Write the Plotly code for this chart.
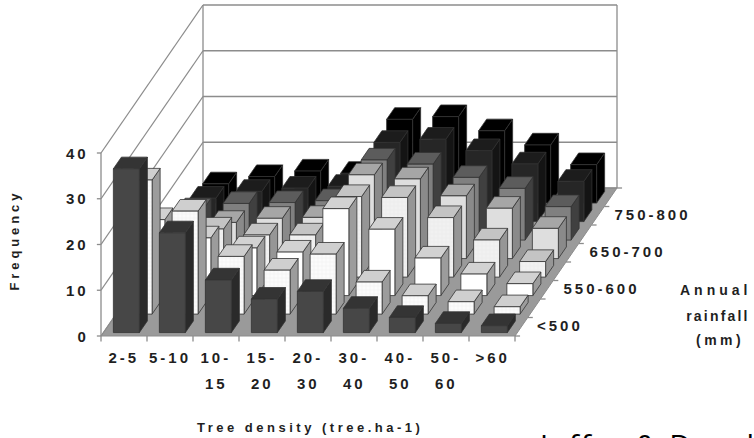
import plotly.graph_objects as go

density = [["2-5"], ["5-10"], ["10-", "15"], ["15-", "20"], ["20-", "30"], ["30-", "40"], ["40-", "50"], ["50-", "60"], [">60"]]
rain_labels = ["<500", "550-600", "650-700", "750-800"]
rain_label_rows = [0, 2, 4, 6]
y_ticks = [0, 10, 20, 30, 40]

r0 = [35.8, 21.8, 11.5, 7.3, 9.0, 5.3, 3.3, 2.0, 1.5]
r1 = [29.3, 22.5, 12.6, 9.6, 13.1, 7.0, 4.0, 2.7, 1.6]
r2 = [16.6, 12.6, 10.4, 9.5, 19.0, 14.5, 8.2, 4.7, 2.6]
r3 = [9.0, 10.5, 9.2, 9.2, 17.6, 17.4, 13.0, 8.1, 3.4]
r4 = [5.0, 7.9, 8.8, 9.0, 18.3, 17.4, 13.7, 11.0, 6.6]
r5 = [6.6, 8.0, 8.2, 8.6, 17.5, 16.6, 13.7, 11.3, 7.3]
r6 = [5.1, 6.6, 7.3, 7.7, 17.3, 18.0, 15.5, 12.6, 8.8]
r7 = [4.2, 5.8, 7.0, 6.5, 18.3, 18.9, 15.8, 12.7, 8.4]
rows = [r0, r1, r2, r3, r4, r5, r6, r7]

front_colors = ["#474747", "#fbfbfb", "#ffffff", "#f1f1f1", "#dedede", "#808080", "#262626", "#000000"]
top_colors = ["#343434", "#cfcfcf", "#d2d2d2", "#c4c4c4", "#a6a6a6", "#5c5c5c", "#1c1c1c", "#000000"]
side_colors = ["#2a2a2a", "#9c9c9c", "#9c9c9c", "#969696", "#8a8a8a", "#404040", "#141414", "#000000"]
patterned = {1: 0.04, 3: 0.06}

PX_X, PX_Y = 46.0, 4.575
DX, DY = 12.75 / PX_X, 18.5 / PX_Y
NROWS = 8
NCOLS = 9
ZMAX = 40
BAR_W = 0.565
BAR_D = 0.63
W, H = 754, 438


def proj(x, d, z):
    return x + d * DX, z + d * DY


def poly(points):
    xs, ys = [], []
    for x, d, z in points + [points[0]]:
        px, py = proj(x, d, z)
        xs.append(px)
        ys.append(py)
    xs.append(None)
    ys.append(None)
    return xs, ys


def add_poly(fig, polys, fill, line="#333333", width=0.8, pattern=None):
    xs, ys = [], []
    for p in polys:
        a, b = poly(p)
        xs += a
        ys += b
    kw = {}
    if pattern:
        kw["fillpattern"] = dict(shape="+", fgcolor="#c9c9c9", bgcolor=fill, size=4, solidity=0.12)
    fig.add_trace(go.Scatter(x=xs, y=ys, mode="lines", fill="toself", fillcolor=fill,
                             line=dict(color=line, width=width), hoverinfo="skip", **kw))


def add_line(fig, a, b, color="#8c8c8c", width=1.3):
    ax, ay = proj(*a)
    bx, by = proj(*b)
    fig.add_trace(go.Scatter(x=[ax, bx], y=[ay, by], mode="lines",
                             line=dict(color=color, width=width), hoverinfo="skip"))


fig = go.Figure()
add_poly(fig, [[(0, 0, 0), (NCOLS, 0, 0), (NCOLS, NROWS, 0), (0, NROWS, 0)]], "#9a9a9a", line="#8c8c8c", width=1)

for v in y_ticks:
    add_line(fig, (0, 0, v), (0, NROWS, v))
    add_line(fig, (0, NROWS, v), (NCOLS, NROWS, v))
add_line(fig, (0, 0, 0), (0, 0, ZMAX))
add_line(fig, (0, NROWS, 0), (0, NROWS, ZMAX))
add_line(fig, (NCOLS, NROWS, 0), (NCOLS, NROWS, ZMAX))

for v in y_ticks:
    add_line(fig, (0, 0, v), (-0.09, 0, v))
for c in range(NCOLS + 1):
    add_line(fig, (c, 0, 0), (c, 0, -1.2))
for r in range(NROWS + 1):
    add_line(fig, (NCOLS, r, 0), (NCOLS + 0.11, r, 0))

for r in range(NROWS - 1, -1, -1):
    d0 = r + (1 - BAR_D) / 2
    d1 = d0 + BAR_D
    fronts, tops, sides = [], [], []
    for c, v in enumerate(rows[r]):
        x0 = c + (1 - BAR_W) / 2
        x1 = x0 + BAR_W
        fronts.append([(x0, d0, 0), (x1, d0, 0), (x1, d0, v), (x0, d0, v)])
        tops.append([(x0, d0, v), (x1, d0, v), (x1, d1, v), (x0, d1, v)])
        sides.append([(x1, d0, 0), (x1, d1, 0), (x1, d1, v), (x1, d0, v)])
    add_poly(fig, sides, side_colors[r])
    add_poly(fig, tops, top_colors[r])
    add_poly(fig, fronts, front_colors[r], pattern=r in patterned)


def label(font_size=15):
    return dict(family="Liberation Sans", size=font_size, color="#1f1f1f")


def paper(text, px, py, size, **kw):
    return dict(x=px / W, y=1 - py / H, xref="paper", yref="paper", showarrow=False, text=text,
                xanchor="center", yanchor="middle", font=kw.pop("font", label(size)), **kw)


annotations = []
for v in y_ticks:
    n = len(str(v))
    annotations.append(dict(x=-(12 + 5.6 * n) / PX_X, y=v, text=f"<b>{v}</b>", showarrow=False, font=label(),
                            xanchor="center", yanchor="middle"))
for c, parts in enumerate(density):
    for i, p in enumerate(parts):
        annotations.append(dict(x=c + 0.5, y=-4.8 - i * 5.5, text=f"<b>{p}</b>", showarrow=False, font=label(),
                                xanchor="center", yanchor="middle"))
for r, lab in zip(rain_label_rows, rain_labels):
    px, py = proj(NCOLS + 0.37 + 0.115 * len(lab), r + 0.55, 0)
    annotations.append(dict(x=px, y=py, text="<b>" + lab.replace("<", "&lt;") + "</b>", showarrow=False, font=label(),
                            xanchor="center", yanchor="middle"))
annotations.append(paper("<b>Frequency</b>", 14, 240, 13, textangle=-90))
annotations.append(paper("<b>Annual</b>", 715, 290, 14))
annotations.append(paper("<b>rainfall</b>", 718, 316, 14))
annotations.append(paper("<b>(mm)</b>", 720, 340, 14))
annotations.append(paper("<b>Tree density (tree.ha-1)</b>", 310, 427, 13))
annotations.append(paper("Jaffar &amp; Darul", 646, 445, 30,
                         font=dict(family="Open Sans", size=30, color="#000000")))

fig.update_layout(
    width=W, height=H, margin=dict(l=0, r=0, t=0, b=0), showlegend=False,
    paper_bgcolor="white", plot_bgcolor="white",
    xaxis=dict(visible=False, range=[-101 / PX_X, (W - 101) / PX_X]),
    yaxis=dict(visible=False, range=[(336 - H) / PX_Y, 336 / PX_Y]),
    annotations=annotations,
)

TRACK = """
document.body.style.margin = '0';
document.querySelectorAll('.annotation-text').forEach(function(t){
  var s = t.textContent, ls = 3;
  if (s.indexOf('Tree') === 0) ls = 3.5;
  if (s.indexOf('Jaffar') === 0) ls = 2;
  if (s.indexOf('Freq') === 0) ls = 3.9;
  if (s.indexOf('Annual') === 0) ls = 4;
  if (s.indexOf('rain') === 0) ls = 2.2;
  if (s.indexOf('(mm') === 0) ls = 3.5;
  t.style.letterSpacing = ls + 'px';
});
"""
fig.write_html("out.html", post_script=TRACK, config={"displayModeBar": False})
